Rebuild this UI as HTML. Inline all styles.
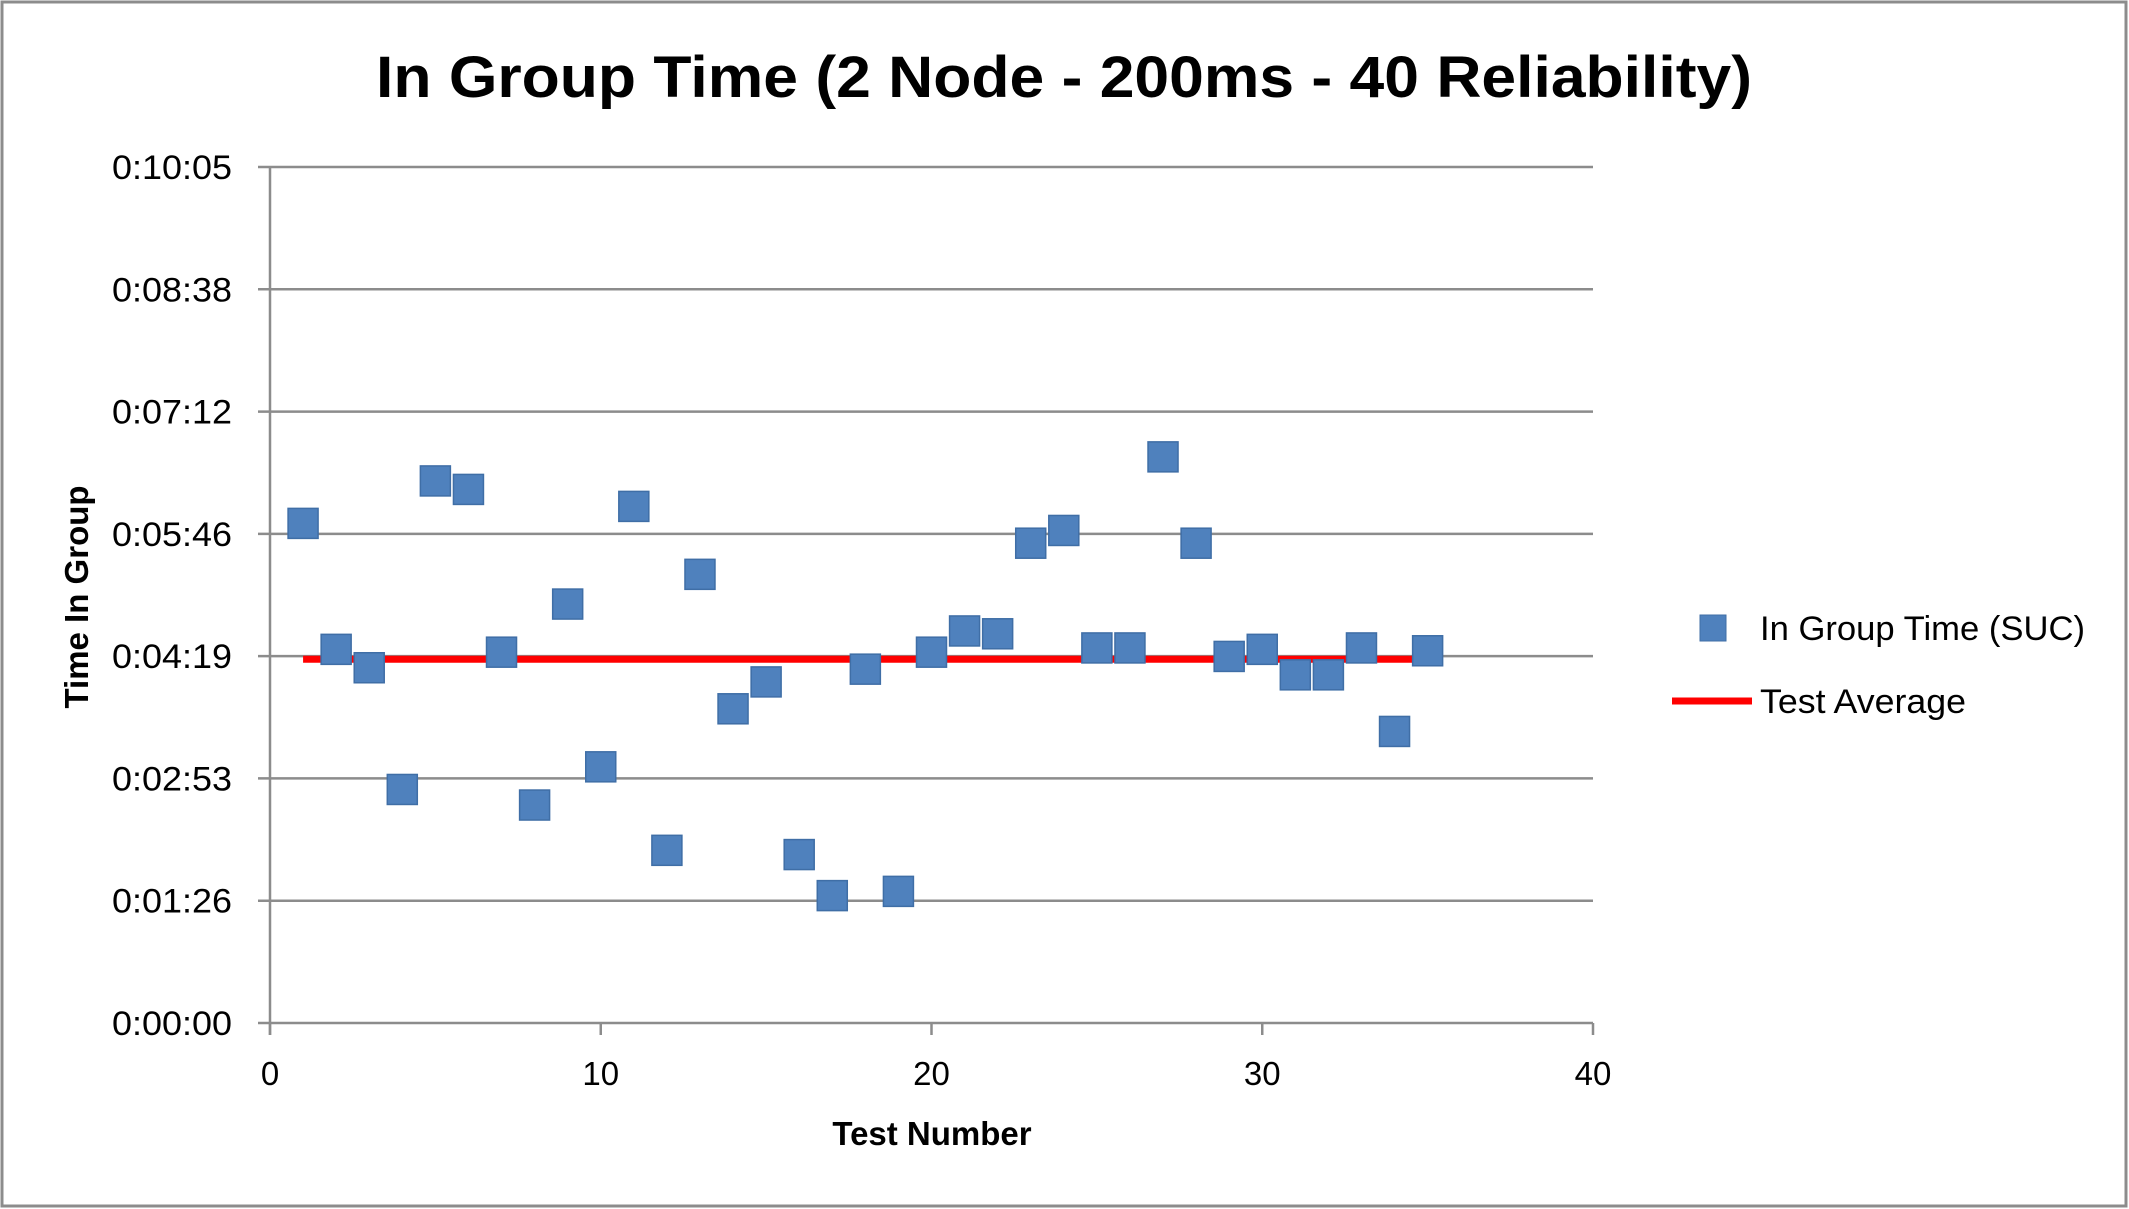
<!DOCTYPE html>
<html><head><meta charset="utf-8"><style>
body{margin:0;background:#fff;}
svg{display:block;font-family:"Liberation Sans","DejaVu Sans",sans-serif;}
</style></head><body>
<svg id="chart" width="2129" height="1209" viewBox="0 0 2129 1209">
<rect x="2" y="2" width="2124" height="1204" fill="#fff" stroke="#8c8c8c" stroke-width="3"/>
<text x="376" y="97" font-size="58" font-weight="bold" textLength="1376" lengthAdjust="spacingAndGlyphs">In Group Time (2 Node - 200ms - 40 Reliability)</text>
<g id="grid"></g>
<g id="marks"></g>
<text x="932" y="1145" text-anchor="middle" font-size="33" font-weight="bold">Test Number</text>
<text transform="translate(88,597) rotate(-90)" text-anchor="middle" font-size="33" font-weight="bold">Time In Group</text>
<g>
<rect x="1700" y="615" width="26" height="26" fill="#4f81bd" stroke="#3f6ea6"/>
<text x="1760" y="640" font-size="34" textLength="325" lengthAdjust="spacingAndGlyphs">In Group Time (SUC)</text>
<line x1="1672" y1="701" x2="1752" y2="701" stroke="#ff0000" stroke-width="7"/>
<text x="1760" y="713" font-size="34" textLength="206" lengthAdjust="spacingAndGlyphs">Test Average</text>
</g>
</svg>
<script>
const tests=[1,2,3,4,5,6,7,8,9,10,11,12,13,14,15,16,17,18,19,20,21,22,23,24,25,26,27,28,29,30,31,32,33,34,35];
const seconds=[353,264,251,165,383,377,262,154,296,181,365,122,317,222,241,119,90,250,93,262,277,275,339,348,265,265,400,339,259,264,246,246,265,206,263];
const average=257;
const yTicks=[0,86.4,172.8,259.2,345.6,432,518.4,604.8];
const yTickLabels=["0:00:00","0:01:26","0:02:53","0:04:19","0:05:46","0:07:12","0:08:38","0:10:05"];
const xTicks=[0,10,20,30,40];
const NS="http://www.w3.org/2000/svg";
const X0=270,X1=1593,Y0=1023,Y1=167;
const xs=v=>X0+(v-0)/40*(X1-X0);
const ys=v=>Y0-(v/604.8)*(Y0-Y1);
function mk(tag,attrs,parent){const e=document.createElementNS(NS,tag);for(const k in attrs)e.setAttribute(k,attrs[k]);parent.appendChild(e);return e;}
const grid=document.getElementById('grid'),marks=document.getElementById('marks');
yTicks.forEach((t,i)=>{
 const y=ys(t);
 const l=mk('line',{x1:X0-12,x2:X1,y1:y,y2:y,stroke:'#8c8c8c','stroke-width':2.5},grid);
 
 
 const tx=mk('text',{x:232,y:y+12,'text-anchor':'end','font-size':34,textLength:120,lengthAdjust:'spacingAndGlyphs'},grid);
 tx.textContent=yTickLabels[i];
 
 
});
const ax=mk('line',{x1:X0,x2:X0,y1:Y1,y2:Y0+12,stroke:'#8c8c8c','stroke-width':2.5},grid);


xTicks.forEach(t=>{
 const x=xs(t);
 const l=mk('line',{x1:x,x2:x,y1:Y0,y2:Y0+12,stroke:'#8c8c8c','stroke-width':2.5},grid);
 
 
 const tx=mk('text',{x:x,y:Y0+62,'text-anchor':'middle','font-size':33},grid);
 tx.textContent=t;
 
 
});
const avg=mk('line',{x1:xs(tests[0]),x2:xs(tests[tests.length-1]),y1:ys(average),y2:ys(average),stroke:'#ff0000','stroke-width':7},marks);


tests.forEach((t,i)=>{
 const s=30;
 const r=mk('rect',{x:xs(t)-s/2,y:ys(seconds[i])-s/2,width:s,height:s,fill:'#4f81bd',stroke:'#3f6ea6','stroke-width':1.5},marks);
 
 
});
</script>
</body></html>
